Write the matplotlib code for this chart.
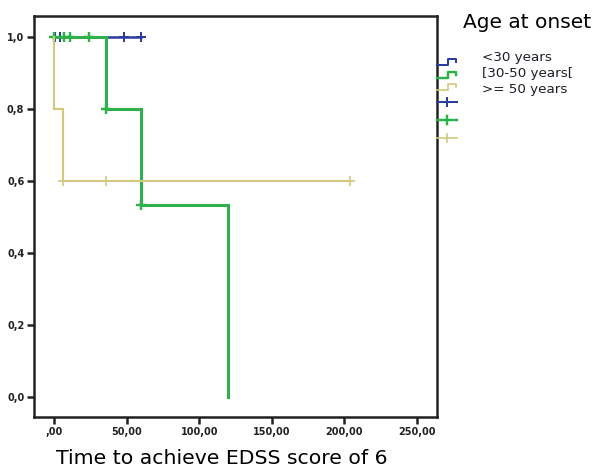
import matplotlib
matplotlib.use("Agg")
import matplotlib.pyplot as plt
from matplotlib.lines import Line2D
from matplotlib.ticker import FixedLocator, FuncFormatter

# ---------------- data ----------------
groups = ["<30 years", "[30-50 years[", ">= 50 years"]
colors = ["#2b3ea0", "#2eb04a", "#d2c87e"]
widths = [1.8, 2.2, 1.5]

# step curves: times at which survival changes and survival values
blue_t = [0, 60]
blue_s = [1.0, 1.0]
blue_cens_t = [1, 4, 48, 60]
blue_cens_s = [1.0, 1.0, 1.0, 1.0]

green_t = [0, 36, 60, 120]
green_s = [1.0, 0.8, 0.533, 0.0]
green_cens_t = [0, 7, 11, 24, 36, 60]
green_cens_s = [1.0, 1.0, 1.0, 1.0, 0.8, 0.533]

yellow_t = [0, 0.3, 6, 204]
yellow_s = [1.0, 0.8, 0.6, 0.6]
yellow_cens_t = [6, 36, 204]
yellow_cens_s = [0.6, 0.6, 0.6]

xticks = [0, 50, 100, 150, 200, 250]
yticks = [0.0, 0.2, 0.4, 0.6, 0.8, 1.0]

W, H = 595, 472
fig = plt.figure(figsize=(W / 100, H / 100), dpi=100)
ax = fig.add_axes([34 / W, 1 - 417 / H, (437 - 34) / W, (417 - 16) / H])


def step_xy(t, s):
    xs, ys = [t[0]], [s[0]]
    for i in range(1, len(t)):
        xs += [t[i], t[i]]
        ys += [s[i - 1], s[i]]
    return xs, ys


curves = [
    (blue_t, blue_s, blue_cens_t, blue_cens_s),
    (green_t, green_s, green_cens_t, green_cens_s),
    (yellow_t, yellow_s, yellow_cens_t, yellow_cens_s),
]
order = [2, 0, 1]
for i in order:
    t, s, ct, cs = curves[i]
    xs, ys = step_xy(t, s)
    ax.plot(xs, ys, color=colors[i], lw=widths[i], solid_joinstyle="miter", zorder=3 + i)
    ax.plot(ct, cs, linestyle="none", marker="+", ms=7, mew=widths[i] * 0.8,
            color=colors[i], zorder=3 + i)

ax.set_xlim(-13.8, 263.8)
ax.set_ylim(-0.0556, 1.058)
ax.xaxis.set_major_locator(FixedLocator(xticks))
ax.yaxis.set_major_locator(FixedLocator(yticks))


def fmt_x(v, p):
    s = f"{v:.2f}".replace(".", ",")
    return s[1:] if s.startswith("0") else s


def fmt_y(v, p):
    return f"{v:.1f}".replace(".", ",")


ax.xaxis.set_major_formatter(FuncFormatter(fmt_x))
ax.yaxis.set_major_formatter(FuncFormatter(fmt_y))
ax.tick_params(axis="both", direction="out", length=5, width=1.8, color="#222222",
               labelsize=7, pad=2)
for lab in ax.get_xticklabels() + ax.get_yticklabels():
    lab.set_fontweight("bold")
    lab.set_color("#222222")
for sp in ax.spines.values():
    sp.set_linewidth(1.8)
    sp.set_color("#222222")

ax.set_xlabel("Time to achieve EDSS score of 6", fontsize=14.7, labelpad=9)
ax.xaxis.label.set_x(0.465)


# ---------------- legend (custom, outside right) ----------------
def px(x, y):
    return x / W, 1 - y / H


fig.text(463 / W, 1 - 28 / H, "Age at onset", fontsize=14.5, ha="left", va="baseline")

label_y = [57, 73, 90]
for i, g in enumerate(groups):
    fig.text(482 / W, 1 - label_y[i] / H, g, fontsize=9.7, ha="left", va="center",
             color="#1e1e2a")

step_low = [65, 78, 90]
step_high = [59, 72, 84]
for i in range(3):
    lo, hi = step_low[i], step_high[i]
    pts = [(437, lo), (448, lo), (448, hi), (456, hi), (456, hi + 3)]
    xs = [px(a, b)[0] for a, b in pts]
    ys = [px(a, b)[1] for a, b in pts]
    fig.add_artist(Line2D(xs, ys, color=colors[i], lw=widths[i] * 0.8))

cross_y = [102, 120, 138]
for i in range(3):
    y = cross_y[i]
    x0, y0 = px(437, y)
    x1, _ = px(457, y)
    fig.add_artist(Line2D([x0, x1], [y0, y0], color=colors[i], lw=widths[i] * 0.8))
    xm, ya = px(447, y - 4)
    _, yb = px(447, y + 4)
    fig.add_artist(Line2D([xm, xm], [ya, yb], color=colors[i], lw=widths[i] * 0.8))

fig.savefig("out.png", dpi=100)
